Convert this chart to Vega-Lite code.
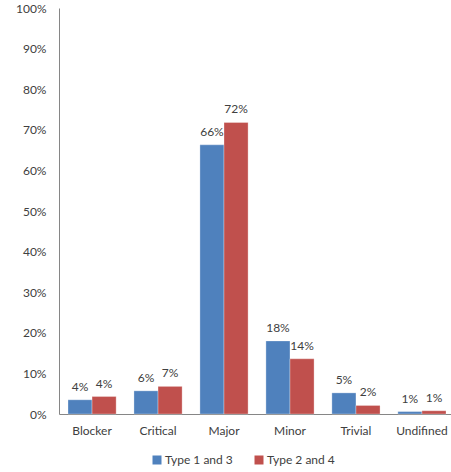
{
  "$schema": "https://vega.github.io/schema/vega-lite/v6.json",
  "width": 396,
  "height": 406,
  "autosize": "none",
  "padding": {"left": 59, "top": 8, "right": 0, "bottom": 58},
  "background": "white",
  "config": {
    "view": {"stroke": null},
    "font": "Lato",
    "axis": {"labelFont": "Lato", "labelFontSize": 12, "labelColor": "#404040", "domainColor": "#868686", "grid": false, "ticks": false, "title": null}
  },
  "data": {
    "values": [
      {"category": "Blocker", "series": "Type 1 and 3", "value": 0.035},
      {"category": "Blocker", "series": "Type 2 and 4", "value": 0.043},
      {"category": "Critical", "series": "Type 1 and 3", "value": 0.057},
      {"category": "Critical", "series": "Type 2 and 4", "value": 0.068},
      {"category": "Major", "series": "Type 1 and 3", "value": 0.663},
      {"category": "Major", "series": "Type 2 and 4", "value": 0.718},
      {"category": "Minor", "series": "Type 1 and 3", "value": 0.18},
      {"category": "Minor", "series": "Type 2 and 4", "value": 0.136},
      {"category": "Trivial", "series": "Type 1 and 3", "value": 0.052},
      {"category": "Trivial", "series": "Type 2 and 4", "value": 0.021},
      {"category": "Undifined", "series": "Type 1 and 3", "value": 0.006},
      {"category": "Undifined", "series": "Type 2 and 4", "value": 0.008}
    ]
  },
  "encoding": {
    "x": {"field": "category", "type": "nominal", "sort": null,
      "scale": {"paddingInner": 0.27, "paddingOuter": 0.136},
      "axis": {"labelAngle": 0, "labelPadding": 11}},
    "xOffset": {"field": "series", "type": "nominal", "scale": {"paddingInner": 0, "paddingOuter": 0}},
    "y": {"field": "value", "type": "quantitative",
      "scale": {"domain": [0, 1], "nice": false},
      "axis": {"format": ".0%", "values": [0, 0.1, 0.2, 0.3, 0.4, 0.5, 0.6, 0.7, 0.8, 0.9, 1], "labelPadding": 13}}
  },
  "layer": [
    {
      "mark": {"type": "bar", "stroke": "white", "strokeWidth": 0.5, "strokeOpacity": 0.6},
      "encoding": {
        "color": {"field": "series", "type": "nominal",
          "scale": {"domain": ["Type 1 and 3", "Type 2 and 4"], "range": ["#4F81BD", "#C0504D"]},
          "legend": {"title": null, "orient": "none", "direction": "horizontal", "legendX": 92, "legendY": 446,
            "symbolType": "square", "symbolSize": 81, "symbolStrokeWidth": 0, "labelFont": "Lato", "labelFontSize": 12,
            "labelColor": "#404040", "labelOffset": 2, "columnPadding": 20}}
      }
    },
    {
      "mark": {"type": "text", "baseline": "bottom", "dy": -6, "fontSize": 12, "font": "Lato", "color": "#404040"},
      "encoding": {
        "text": {"field": "value", "type": "quantitative", "format": ".0%"}
      }
    }
  ]
}
